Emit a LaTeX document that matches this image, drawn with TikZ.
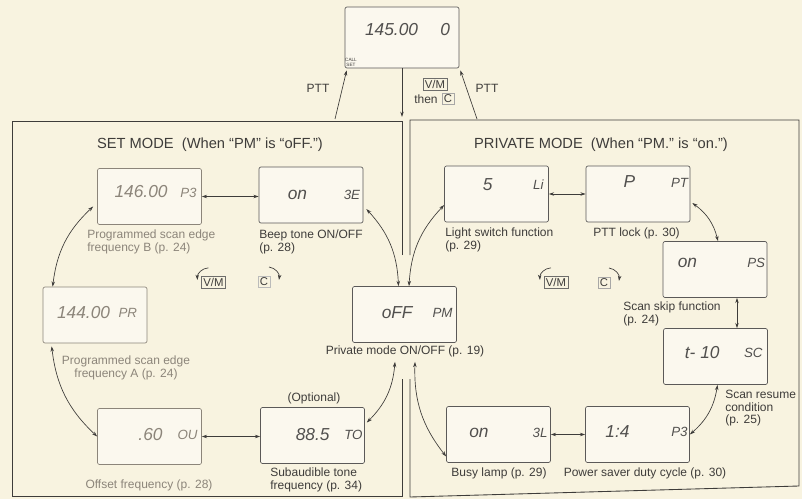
\documentclass[tikz,border=0pt]{standalone}
\usepackage{fontspec}
\setmainfont{Liberation Sans}
\newfontfamily\lcdfont{Liberation Sans}
\usetikzlibrary{arrows.meta,positioning}

\definecolor{paper}{RGB}{248,243,224}
\definecolor{ink}{RGB}{62,60,58}
\definecolor{faded}{RGB}{140,133,122}

\begin{document}
\begin{tikzpicture}[x=0.75pt,y=0.75pt,
    lcd/.style={draw=ink!85,fill=white!45!paper,line width=0.5pt,rounded corners=1.5pt,
                minimum width=78pt,minimum height=42pt,inner sep=0pt},
    lcdval/.style={font=\lcdfont\itshape\fontsize{13}{13}\selectfont,text=ink!90,inner sep=0pt},
    lcdtag/.style={font=\lcdfont\itshape\fontsize{10}{10}\selectfont,text=ink!90,inner sep=0pt},
    caption/.style={font=\fontsize{9}{9.3}\selectfont,text=ink,inner sep=0pt},
    headline/.style={font=\fontsize{11}{11}\selectfont,text=ink,inner sep=0pt},
    keycap/.style={draw=ink!75,line width=0.4pt,font=\fontsize{8.5}{8.5}\selectfont,text=ink,
                   inner sep=1.3pt},
    dim/.style={text=faded},
    dimbox/.style={draw=faded},
    pair/.style={draw=ink,line width=0.5pt,
                 {Stealth[length=4pt,width=2.6pt]}-{Stealth[length=4pt,width=2.6pt]}},
    oneway/.style={draw=ink,line width=0.5pt,-{Stealth[length=4pt,width=2.6pt]}}]

\fill [paper] (0,0) rectangle (802,-499);
\useasboundingbox (0,0) rectangle (802,-499);

\draw [ink,line width=0.65pt]
    (402,-255) -- (402,-121) -- (12,-121) -- (12,-496) -- (402,-496) -- (402,-379);
\draw [ink,line width=0.65pt]
    (410,-255) -- (410,-120) -- (799,-120) -- (799,-486) -- (410,-497) -- (410,-379);

\node [lcd,minimum width=85.5pt,minimum height=45.75pt] (call) at (402,-37.5) {};
\node [lcd,dimbox] (pb) at (149.5,-196.5) {};
\node [lcd]        (be) at (311  ,-195  ) {};
\node [lcd,dimbox] (pa) at ( 95  ,-315  ) {};
\node [lcd,dimbox] (ou) at (149.5,-436.5) {};
\node [lcd]        (to) at (312.5,-435.5) {};
\node [lcd]        (pm) at (404.5,-314.5) {};
\node [lcd]        (li) at (496.5,-194  ) {};
\node [lcd]        (pt) at (638  ,-194  ) {};
\node [lcd]        (ps) at (715  ,-269.5) {};
\node [lcd]        (sc) at (715.5,-356.5) {};
\node [lcd]        (pd) at (637.5,-434.5) {};
\node [lcd]        (bl) at (498.5,-434.5) {};

\path
    (call.east) ++(-41, 7.5) node [lcdval,left]     {145.00}
    (call.east) ++( -9, 7.5) node [lcdval,left]     {0}
    (pb.east)   ++(-34, 4.5) node [lcdval,left,dim] {146.00}
    (pb.east)   ++( -5, 4  ) node [lcdtag,left,dim] {P3}
    (be.east)   ++(-56, 0  ) node [lcdval,left]     {on}
    (be.east)   ++( -3, 0  ) node [lcdtag,left]     {3E}
    (pa.east)   ++(-37, 2  ) node [lcdval,left,dim] {144.00}
    (pa.east)   ++(-10, 2  ) node [lcdtag,left,dim] {PR}
    (ou.east)   ++(-39, 1.5) node [lcdval,left,dim] {.60}
    (ou.east)   ++( -4, 1.5) node [lcdtag,left,dim] {OU}
    (to.east)   ++(-35, 0.5) node [lcdval,left]     {88.5}
    (to.east)   ++( -2, 0.5) node [lcdtag,left]     {TO}
    (pm.east)   ++(-44, 1.5) node [lcdval,left]     {oFF}
    (pm.east)   ++( -4, 1.5) node [lcdtag,left]     {PM}
    (li.east)   ++(-56, 9  ) node [lcdval,left]     {5}
    (li.east)   ++( -5, 9  ) node [lcdtag,left]     {Li}
    (pt.east)   ++(-55,12  ) node [lcdval,left]     {P}
    (pt.east)   ++( -2,11  ) node [lcdtag,left]     {PT}
    (ps.east)   ++(-70, 6.5) node [lcdval,left]     {on}
    (ps.east)   ++( -2, 6.5) node [lcdtag,left]     {PS}
    (sc.east)   ++(-48, 3.5) node [lcdval,left]     {t- 10}
    (sc.east)   ++( -5, 3.5) node [lcdtag,left]     {SC}
    (pd.east)   ++(-60, 2.5) node [lcdval,left]     {1:4}
    (pd.east)   ++( -2, 2.5) node [lcdtag,left]     {P3}
    (bl.east)   ++(-62, 1.5) node [lcdval,left]     {on}
    (bl.east)   ++( -3, 1.5) node [lcdtag,left]     {3L};
\node [font=\fontsize{3.5}{3.8}\selectfont,align=center,text=ink,inner sep=0pt] (callset)
    at (351,-62) {CALL\\SET};

\node [headline] (settitle)  at (210,-145) {SET MODE\ \ (When “PM” is “oFF.”)};
\node [headline] (privtitle) at (601,-145) {PRIVATE MODE\ \ (When “PM.” is “on.”)};

\node [caption,dim,anchor=north west,align=left] (pblab) at ( 87,-230)
    {Programmed scan edge\\frequency B (p. 24)};
\node [caption,anchor=north west,align=left]     (belab) at (259,-230)
    {Beep tone ON/OFF\\(p. 28)};
\node [caption,dim,align=center]                 (palab) at (126,-368)
    {Programmed scan edge\\frequency A (p. 24)};
\node [caption,dim]                              (oulab) at (149,-485) {Offset frequency (p. 28)};
\node [caption]                                  (opt)   at (314,-398) {(Optional)};
\node [caption,anchor=north west,align=left]     (tolab) at (270,-468)
    {Subaudible tone\\frequency (p. 34)};
\node [caption]                                  (pmlab) at (405,-351) {Private mode ON/OFF (p. 19)};
\node [caption,anchor=north west,align=left]     (lilab) at (445,-228)
    {Light switch function\\(p. 29)};
\node [caption,anchor=north west]                (ptlab) at (593,-228) {PTT lock (p. 30)};
\node [caption,anchor=north west,align=left]     (pslab) at (623,-302)
    {Scan skip function\\(p. 24)};
\node [caption,anchor=north west,align=left]     (sclab) at (725,-390)
    {Scan resume\\condition\\(p. 25)};
\node [caption]                                  (pdlab) at (645,-473) {Power saver duty cycle (p. 30)};
\node [caption]                                  (bllab) at (499,-473) {Busy lamp (p. 29)};

\node [caption]                   (pttl) at (318,-88) {PTT};
\node [caption]                   (pttr) at (487,-88) {PTT};
\node [keycap]                    (vm)   at (435,-84) {V/M};
\node [caption,anchor=west]       (then) at (414,-99) {then};
\node [keycap,draw=ink!45,right=3pt of then] (ck) {C};
\coordinate (pttlfoot) at (335,-119);
\coordinate (pttrfoot) at (477,-119);
\coordinate (vmfoot)   at (402,-117);
\draw [oneway] (pttlfoot) -- ([shift={(2,-2)}]call.south west);
\draw [oneway] (pttrfoot) -- ([shift={(1,-2)}]call.south east);
\draw [oneway] (call.south) -- (vmfoot);

\node [keycap]              (vml) at (213.5,-282) {V/M};
\node [keycap,draw=ink!35]  (cl)  at (264  ,-282) {C};
\node [keycap]              (vmr) at (556  ,-282) {V/M};
\node [keycap,draw=ink!45]  (cr)  at (604  ,-283) {C};
\draw [oneway] ([shift={(-5,8)}]vml.north) to [bend right=45] ([shift={(-4,2)}]vml.west);
\draw [oneway] ([shift={(5,15)}]cl.center) to [bend left=45]  ([shift={(15,2)}]cl.center);
\draw [oneway] ([shift={(-5,8)}]vmr.north) to [bend right=45] ([shift={(-4,2)}]vmr.west);
\draw [oneway] ([shift={(5,15)}]cr.center) to [bend left=45]  ([shift={(15,2)}]cr.center);

\draw [pair] (pb.east) -- (pb.east -| be.west);
\draw [pair] (ou.east) -- (ou.east -| to.west);
\draw [pair] ([shift={(10,0)}]pa.north west) to [bend left=20] ([shift={(-4,-10)}]pb.west);
\draw [pair] ([shift={(3,-14)}]be.east)      to [bend left=20] ([shift={(-6,0)}]pm.north);
\draw [pair] ([shift={(-10,-5)}]pmlab.south) to [bend left=20] ([shift={(2,13)}]to.east);
\draw [pair] (ou.west)                       to [bend left=20] ([shift={(9,-3)}]pa.south west);

\draw [pair] ([shift={(4.5,0)}]pm.north)     to [bend left=20] ([shift={(0,-11)}]li.west);
\draw [pair] (li.east) -- (li.east -| pt.west);
\draw [pair] ([shift={(2,-9)}]pt.east)       to [bend left=20] ([shift={(3,0)}]ps.north);
\draw [pair] ([shift={(22,0)}]ps.south) -- ([shift={(22,0)}]ps.south |- sc.north);
\draw [pair] ([shift={(2,0)}]sc.south)       to [bend left=20] (pd.east);
\draw [pair] (pd.west) -- (pd.west -| bl.east);
\draw [pair] ([shift={(0,-22)}]bl.west)      to [bend left=20] ([shift={(10,-5)}]pmlab.south);
\end{tikzpicture}
\end{document}
